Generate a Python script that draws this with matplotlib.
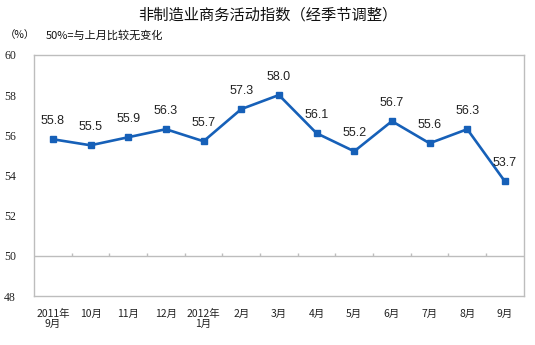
import matplotlib
matplotlib.use("Agg")
import matplotlib.pyplot as plt

plt.rcParams['font.family'] = ['Noto Sans CJK SC', 'DejaVu Sans']

months = ["2011年\n9月", "10月", "11月", "12月", "2012年\n1月", "2月", "3月",
          "4月", "5月", "6月", "7月", "8月", "9月"]
index_values = [55.8, 55.5, 55.9, 56.3, 55.7, 57.3, 58.0, 56.1, 55.2, 56.7, 55.6, 56.3, 53.7]
y_ticks = [48, 50, 52, 54, 56, 58, 60]

line_color = "#1660B8"
frame_color = "#BDBDBD"

fig = plt.figure(figsize=(5.35, 3.45), dpi=100)
ax = fig.add_axes([0.0636, 0.142, 0.9154, 0.699])

x = list(range(len(months)))
ax.plot(x, index_values, color=line_color, lw=1.9, marker="s", ms=5,
        mec=line_color, mfc=line_color)

for xi, v in zip(x, index_values):
    ax.annotate(f"{v:.1f}", (xi, v), xytext=(0, 9), textcoords="offset points",
                ha="center", va="bottom", fontsize=9, family="Liberation Sans",
                color="#222222")

ax.set_xlim(-0.5, len(months) - 0.5)
ax.set_ylim(48, 60)
ax.set_yticks(y_ticks)
ax.set_yticklabels([str(t) for t in y_ticks], family="Liberation Serif", fontsize=8.5)
ax.set_xticks(x)
ax.set_xticklabels(months, fontsize=7.5, linespacing=1.1)
ax.tick_params(axis="both", length=0, colors="#222222")
ax.tick_params(axis="y", pad=13)
ax.tick_params(axis="x", pad=9)

for s in ax.spines.values():
    s.set_color(frame_color)
    s.set_linewidth(1.0)

# reference line at 50 with category boundary ticks
ax.axhline(50, color=frame_color, lw=1.0, zorder=1)
ax.vlines([k + 0.5 for k in range(len(months) - 1)], 50, 50.13,
          color=frame_color, lw=1.0, zorder=1)

fig.text(0.5, 0.955, "非制造业商务活动指数（经季节调整）", ha="center", va="center",
         fontsize=11, color="#111111")
fig.text(0.008, 0.898, "（%）", ha="left", va="center", fontsize=7.5, color="#111111")
fig.text(0.085, 0.898, "50%=与上月比较无变化", ha="left", va="center", fontsize=8,
         color="#111111")

fig.savefig("out.png", dpi=100)
